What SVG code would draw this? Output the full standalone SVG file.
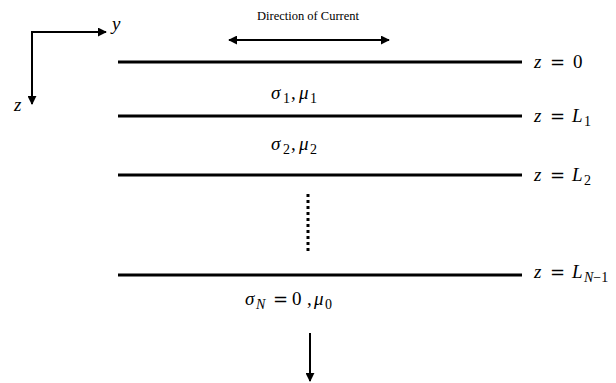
<svg xmlns="http://www.w3.org/2000/svg" width="616" height="383" viewBox="0 0 616 383">
<style>
.layer{stroke:#000;stroke-width:3;fill:none}
.ax{stroke:#000;stroke-width:2;fill:none}
.m{font-family:"Liberation Serif","DejaVu Serif",serif;font-size:19px;fill:#000}
.i{font-style:italic}
.s{font-size:14px}
.eq{font-family:"DejaVu Sans",sans-serif;font-size:18px}
.t{font-family:"Liberation Serif",serif;font-size:12.5px;fill:#000}
</style>
<defs>
<marker id="ah" viewBox="0 0 10 10" refX="9" refY="5" markerWidth="4.5" markerHeight="4.5" orient="auto-start-reverse" markerUnits="strokeWidth">
<path d="M0,0 L10,5 L0,10 z" fill="#000"/>
</marker>
</defs>
<rect width="616" height="383" fill="#fff"/>
<g id="axes">
<path class="ax" d="M106,32 L32,32 L32,104" marker-start="url(#ah)" marker-end="url(#ah)"/>
<text class="m i" x="112" y="30">y</text>
<text class="m i" x="14" y="111">z</text>
</g>
<g id="current">
<text class="t" x="308" y="20" text-anchor="middle">Direction of Current</text>
<line class="ax" x1="229" y1="40" x2="389" y2="40" marker-start="url(#ah)" marker-end="url(#ah)"/>
</g>
<g id="boundaries">
<line class="layer" x1="118" y1="62" x2="522" y2="62"/>
<line class="layer" x1="118" y1="116" x2="522" y2="116"/>
<line class="layer" x1="118" y1="175" x2="522" y2="175"/>
<line class="layer" x1="118" y1="275" x2="522" y2="275"/>
</g>
<g id="labels-z">
<text class="m" y="68"><tspan class="i" x="534">z</tspan><tspan class="eq" x="550">=</tspan><tspan x="573">0</tspan></text>
<text class="m" y="122"><tspan class="i" x="534">z</tspan><tspan class="eq" x="550">=</tspan><tspan class="i" x="572">L</tspan><tspan class="s" x="584" dy="4">1</tspan></text>
<text class="m" y="181"><tspan class="i" x="534">z</tspan><tspan class="eq" x="550">=</tspan><tspan class="i" x="572">L</tspan><tspan class="s" x="584" dy="4">2</tspan></text>
<text class="m" y="278"><tspan class="i" x="534">z</tspan><tspan class="eq" x="550">=</tspan><tspan class="i" x="572">L</tspan><tspan class="s i" x="584" dy="4">N</tspan><tspan class="s">−1</tspan></text>
</g>
<g id="layer1"><text class="m" y="99"><tspan class="i" x="271">σ</tspan><tspan class="s" x="283" dy="4">1</tspan><tspan x="291" dy="-4">,</tspan><tspan class="i" x="299">μ</tspan><tspan class="s" x="310" dy="4">1</tspan></text></g>
<g id="layer2"><text class="m" y="150"><tspan class="i" x="271">σ</tspan><tspan class="s" x="283" dy="4">2</tspan><tspan x="291" dy="-4">,</tspan><tspan class="i" x="299">μ</tspan><tspan class="s" x="310" dy="4">2</tspan></text></g>
<g id="dots"><line x1="308" y1="194" x2="308" y2="254" stroke="#000" stroke-width="3" stroke-dasharray="3,3"/></g>
<g id="layerN"><text class="m" y="305"><tspan class="i" x="245">σ</tspan><tspan class="s i" x="256" dy="4">N</tspan><tspan class="eq" x="273" dy="-4">=</tspan><tspan x="292">0</tspan><tspan x="307">,</tspan><tspan class="i" x="314">μ</tspan><tspan class="s" x="325" dy="4">0</tspan></text></g>
<g id="down"><line class="ax" x1="310" y1="333" x2="310" y2="381" marker-end="url(#ah)"/></g>
</svg>
